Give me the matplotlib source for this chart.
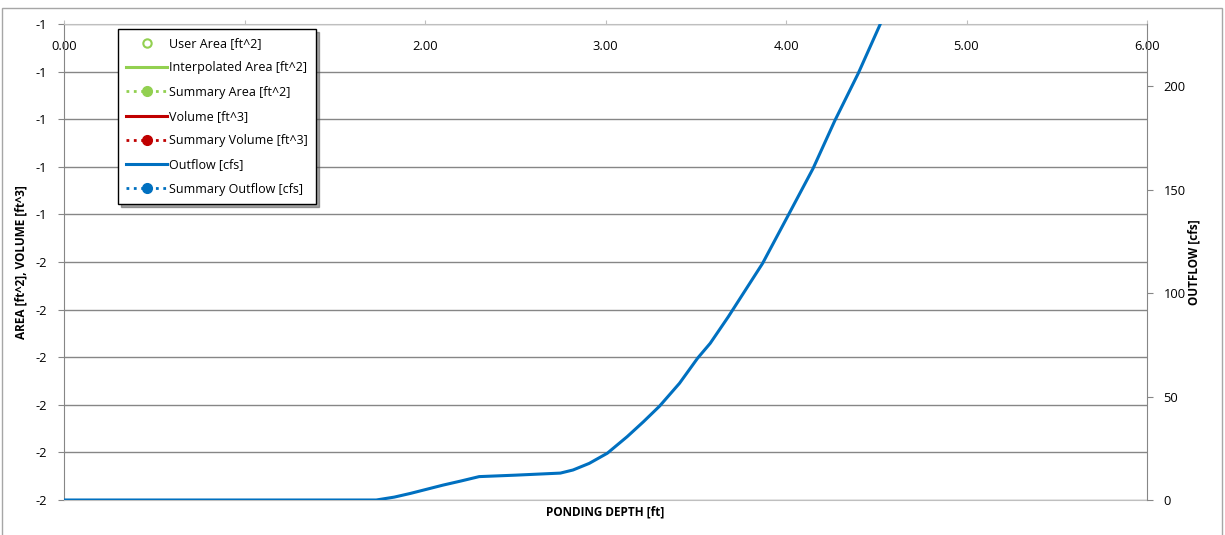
import matplotlib.pyplot as plt
from matplotlib.patches import Rectangle

plt.rcParams['font.family'] = ['Open Sans', 'DejaVu Sans']

# outflow curve
depth_ft = [0.00, 1.73, 1.83, 1.92, 2.01, 2.10, 2.20, 2.30, 2.50, 2.75,
            2.82, 2.91, 3.01, 3.12, 3.21, 3.30, 3.41, 3.51, 3.58, 3.68,
            3.87, 4.01, 4.15, 4.27, 4.40, 4.52, 4.60]
outflow_cfs = [0, 0, 1.4, 3.2, 5.2, 7.2, 9.2, 11.3, 12.0, 13.0,
               14.5, 17.7, 22.6, 30.6, 37.8, 45.4, 56.4, 68.5, 75.7, 88.5,
               114.3, 137.2, 160.2, 183.2, 206.1, 229.5, 247]

x_ticks = [0, 1, 2, 3, 4, 5, 6]
x_tick_labels = ['0.00', '1.00', '2.00', '3.00', '4.00', '5.00', '6.00']
left_ticks = [-2.0, -1.9, -1.8, -1.7, -1.6, -1.5, -1.4, -1.3, -1.2, -1.1, -1.0]
left_tick_labels = ['-2', '-2', '-2', '-2', '-2', '-2', '-1', '-1', '-1', '-1', '-1']
right_ticks = [0, 50, 100, 150, 200]

green = '#92D050'
red = '#C00000'
blue = '#0070C0'
grid_col = '#868686'
fs = 8.5
tick_fs = 9.3

fig = plt.figure(figsize=(12.25, 5.35), dpi=100)
ax = fig.add_axes([64 / 1225, 35 / 535, 1083 / 1225, 476 / 535])
ax2 = ax.twinx()

# left axis: area / volume (no data)
ax.set_xlim(0, 6)
ax.set_ylim(-2, -1)
ax.set_yticks(left_ticks)
ax.set_yticklabels(left_tick_labels)
ax.set_xticks(x_ticks)
ax.set_xticklabels(x_tick_labels)
ax.xaxis.tick_top()
ax.tick_params(axis='x', direction='out', length=3, color='#BFBFBF', pad=-24, labelsize=tick_fs)
ax.tick_params(axis='y', direction='out', length=4, color=grid_col, labelsize=tick_fs, pad=8)
ax.grid(axis='y', color=grid_col, linewidth=1)
ax.set_axisbelow(True)
ax.spines['left'].set_color(grid_col)
ax.spines['top'].set_color('#BFBFBF')
ax.spines['bottom'].set_color('#BFBFBF')
ax.spines['right'].set_visible(False)
ax.set_ylabel('AREA [ft^2], VOLUME [ft^3]', fontweight='bold', fontsize=fs, labelpad=6)
ax.set_xlabel('PONDING DEPTH [ft]', fontweight='bold', fontsize=fs, labelpad=4)
ax.xaxis.set_label_position('bottom')

# right axis: outflow
h1, = ax2.plot([], [], linestyle='none', marker='o', markerfacecolor='white',
               markeredgecolor=green, markersize=6, markeredgewidth=1.5)
h2, = ax2.plot([], [], color=green, linewidth=2.2)
h3, = ax2.plot([], [], color=green, linewidth=2, linestyle=':', marker='o', markersize=7)
h4, = ax2.plot([], [], color=red, linewidth=2.2)
h5, = ax2.plot([], [], color=red, linewidth=2, linestyle=':', marker='o', markersize=7)
h6, = ax2.plot(depth_ft, outflow_cfs, color=blue, linewidth=2.2)
h7, = ax2.plot([], [], color=blue, linewidth=2, linestyle=':', marker='o', markersize=7)

ax2.set_ylim(0, 230)
ax2.set_yticks(right_ticks)
ax2.tick_params(axis='y', direction='out', length=4, color=grid_col, labelsize=tick_fs, pad=8)
ax2.spines['right'].set_color(grid_col)
for s in ['left', 'top', 'bottom']:
    ax2.spines[s].set_visible(False)
ax2.set_ylabel('OUTFLOW [cfs]', fontweight='bold', fontsize=fs, labelpad=1)

leg = ax2.legend([h1, h2, h3, h4, h5, h6, h7],
                 ['User Area [ft^2]', 'Interpolated Area [ft^2]', 'Summary Area [ft^2]',
                  'Volume [ft^3]', 'Summary Volume [ft^3]', 'Outflow [cfs]',
                  'Summary Outflow [cfs]'],
                 loc='upper left', bbox_to_anchor=(54 / 1083, 1 - 5 / 476),
                 borderaxespad=0, fontsize=9, frameon=True, fancybox=False,
                 shadow=True, framealpha=1, edgecolor='black', handlelength=3.3,
                 handletextpad=0.15, labelspacing=0.9, borderpad=0.65)
leg.get_frame().set_linewidth(1)

# outer chart border
fig.add_artist(Rectangle((2 / 1225, -0.05), 1220 / 1225, 0.05 + 527 / 535,
                         transform=fig.transFigure, fill=False,
                         edgecolor='#A6A6A6', linewidth=1))

fig.savefig('out.png', dpi=100)
